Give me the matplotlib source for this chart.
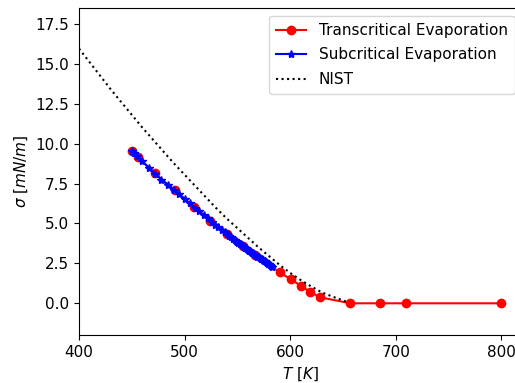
import matplotlib
matplotlib.use("Agg")
import matplotlib.pyplot as plt

# transcritical evaporation results
t_trans = [450, 456, 471.5, 490.5, 508.5, 524.5, 540, 555, 567,
           590, 600.5, 610, 618.5, 628, 657, 685, 710, 800]
sig_trans = [9.54, 9.14, 8.14, 7.09, 6.05, 5.17, 4.34, 3.59, 3.02,
             1.94, 1.5, 1.1, 0.73, 0.38, 0.0, 0.0, 0.0, 0.0]

# subcritical evaporation results
t_sub = [450, 452, 455, 460, 466, 472, 478, 484, 490, 495, 500, 505, 510,
         514, 518, 522, 526, 529, 532, 535, 538, 540, 542, 544, 546, 548,
         549, 550, 551, 552, 553, 554, 555, 556, 557, 558, 559, 560, 561,
         562, 563, 564, 565, 566, 567, 568, 569, 570, 571, 572, 573, 574,
         575, 576, 577, 578, 579, 580, 581, 582, 583]
sig_sub = [9.54, 9.42, 9.22, 8.9, 8.5, 8.12, 7.75, 7.42, 7.1, 6.82, 6.54,
           6.25, 5.97, 5.75, 5.53, 5.31, 5.09, 4.93, 4.77, 4.61, 4.45, 4.34,
           4.24, 4.14, 4.04, 3.94, 3.89, 3.84, 3.79, 3.74, 3.69, 3.64, 3.59,
           3.54, 3.49, 3.44, 3.39, 3.34, 3.30, 3.25, 3.21, 3.16, 3.12, 3.07,
           3.02, 2.98, 2.93, 2.89, 2.84, 2.80, 2.75, 2.71, 2.66, 2.62, 2.57,
           2.53, 2.48, 2.44, 2.39, 2.35, 2.3]

# NIST reference
t_nist = [400, 410, 420, 430, 440, 450, 460, 470, 480, 490, 500, 510, 520,
          530, 540, 550, 560, 570, 580, 590, 600, 610, 620, 630, 640, 650, 653]
sig_nist = [15.95, 15.1, 14.25, 13.4, 12.6, 11.8, 11.0, 10.25, 9.5, 8.75,
            8.05, 7.35, 6.65, 5.95, 5.3, 4.7, 4.1, 3.5, 2.95, 2.4, 1.9, 1.45,
            1.05, 0.68, 0.42, 0.18, 0.1]

plt.rcParams['font.size'] = 11

fig, ax = plt.subplots(figsize=(5.15, 3.83), dpi=100)
# the original is cropped on the right, so the axes run past the edge
fig.subplots_adjust(left=79 / 515, right=522.6 / 515, top=1 - 8 / 383,
                    bottom=1 - 335 / 383)

ax.plot(t_trans, sig_trans, 'o-', color='red', label='Transcritical Evaporation')
ax.plot(t_sub, sig_sub, '*-', color='blue', label='Subcritical Evaporation')
ax.plot(t_nist, sig_nist, ':', color='black', label='NIST')

ax.set_xlim(400, 820)
ax.set_ylim(-1.985, 18.49)
ax.set_xticks([400, 500, 600, 700, 800])
ax.set_yticks([0.0, 2.5, 5.0, 7.5, 10.0, 12.5, 15.0, 17.5])
ax.set_xlabel(r'$T\ [K]$')
ax.set_ylabel(r'$\sigma\ [mN/m]$')
ax.legend(loc='upper right', labelspacing=0.62, borderpad=0.48)

fig.savefig('out.png', dpi=100)
